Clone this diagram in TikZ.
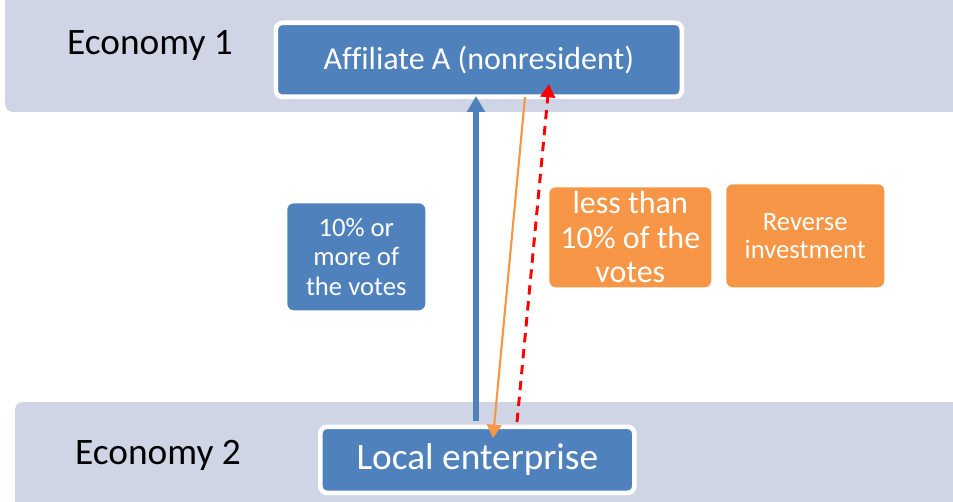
\documentclass[tikz,border=0pt]{standalone}
\usepackage{fontspec}
\setmainfont{Carlito}[Ligatures=CommonOff]
\usetikzlibrary{arrows.meta}
\definecolor{band}{HTML}{CFD5E4}
\definecolor{boxblue}{HTML}{4F81BD}
\definecolor{boxorange}{HTML}{F79646}
\definecolor{dashred}{HTML}{FF0000}
\tikzset{
  bandbox/.style={fill=band, draw=none, rounded corners=6pt},
  mainbox/.style={fill=boxblue, draw=white, line width=3.5pt, rounded corners=5pt, text=white, inner sep=0pt, anchor=north west},
  labelbox/.style={draw=none, rounded corners=5pt, text=white, inner sep=0pt, anchor=north west, align=center},
  econ/.style={text=black, font=\fontsize{28}{32}\selectfont, inner sep=0pt}
}
\begin{document}
\begin{tikzpicture}[x=0.75pt,y=-0.75pt]
\useasboundingbox (0,0) rectangle (953,502);
% bands
\fill[bandbox] (5,-10) rectangle (963,112);
\fill[bandbox] (15,402) rectangle (963,512);
\node[econ] (e1) at (150,45) {Economy 1};
\node[econ] (e2) at (158,455) {Economy 2};
% main boxes
\node[mainbox, minimum width=406pt*0.75, minimum height=74pt*0.75, font=\fontsize{24}{28}\selectfont] (aff) at (273.5,20.5) {Affiliate A (nonresident)};
\node[mainbox, minimum width=314pt*0.75, minimum height=66pt*0.75, font=\fontsize{28}{32}\selectfont] (loc) at (318,424.5) {Local enterprise};
% label boxes
\node[labelbox, fill=boxblue, minimum width=138pt*0.75, minimum height=107pt*0.75, font=\fontsize{20}{22}\selectfont] (b1) at (287,203) {10\% or\\more of\\the votes};
\node[labelbox, fill=boxorange, minimum width=162pt*0.75, minimum height=100pt*0.75, font=\fontsize{24}{26}\selectfont] (b2) at (549,187) {less than\\10\% of the\\votes};
\node[labelbox, fill=boxorange, minimum width=158pt*0.75, minimum height=103pt*0.75, font=\fontsize{20}{21}\selectfont] (b3) at (726,184) {Reverse\\investment};
% connector endpoints
\coordinate (bs) at (476,421);
\coordinate (be) at (476,96);
\coordinate (os) at (525,97);
\coordinate (oe) at (493,438);
\coordinate (rs) at (517,422);
\coordinate (re) at (549,84);
\draw[boxblue, line width=4pt, -{Triangle[length=12pt,width=13pt]}] (bs) -- (be);
\draw[boxorange, line width=1.6pt, -{Triangle[length=10pt,width=11pt]}] (os) -- (oe);
\draw[dashred, line width=2.2pt, dash pattern=on 7pt off 5pt, -{Triangle[length=10pt,width=11pt]}] (rs) -- (re);
\end{tikzpicture}
\end{document}
